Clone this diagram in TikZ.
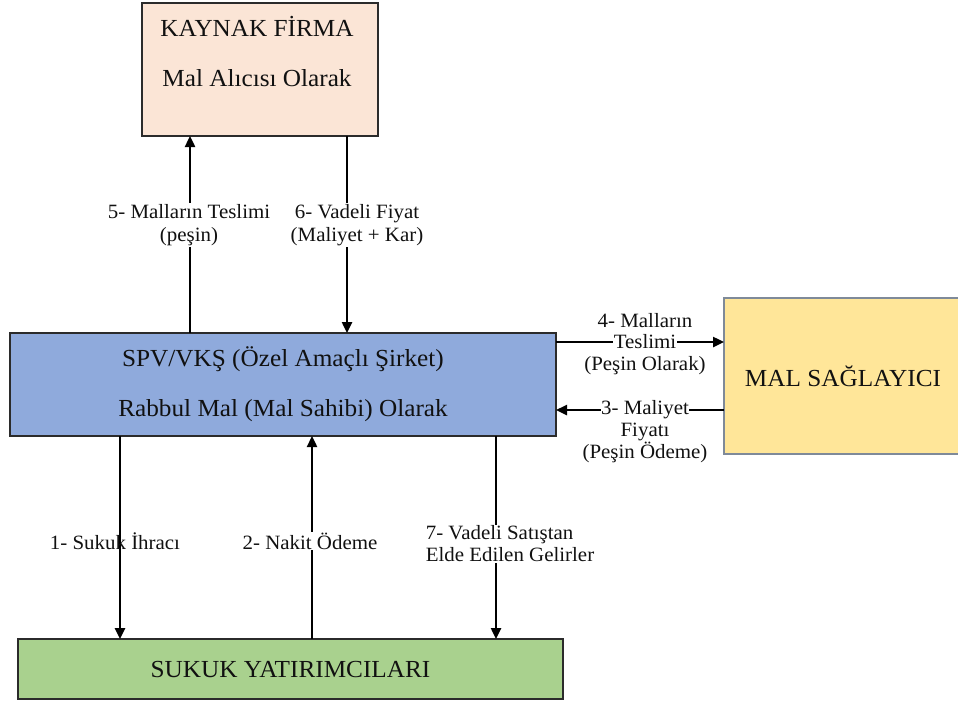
\documentclass[tikz,border=0pt]{standalone}
\usepackage{fontspec}
\setmainfont{Liberation Serif}[FakeStretch=1.03]
\usetikzlibrary{arrows.meta}
\definecolor{peach}{HTML}{FBE5D6}
\definecolor{spvblue}{HTML}{8FAADC}
\definecolor{sgreen}{HTML}{A9D18E}
\definecolor{syellow}{HTML}{FFE699}
\definecolor{darkline}{HTML}{2B2B2B}
\definecolor{grayline}{HTML}{7F8A99}
\definecolor{txt}{HTML}{111111}
\begin{document}
\begin{tikzpicture}[x=1pt,y=-1pt,
  box/.style={draw=darkline, line width=1.8pt, inner sep=0pt, outer sep=0pt,
    text=txt, align=center, font=\fontsize{24.5}{29}\selectfont},
  boxtext/.style={inner sep=0pt, text=txt, align=center, font=\fontsize{24.5}{29}\selectfont},
  arr/.style={draw=black, line width=2.4pt, -{Triangle[length=11pt,width=10pt]}},
  lbl/.style={inner sep=1pt, text=txt, align=center, font=\fontsize{20.3}{22}\selectfont},
  lblw/.style={lbl, fill=white}
]
\useasboundingbox (0,0) rectangle (958,702);

% boxes
\node[box, fill=peach, minimum width=236pt, minimum height=133pt] (kf) at (260,69.5) {};
\node[boxtext] (kft) at (257,52) {KAYNAK FİRMA\\[21pt]Mal Alıcısı Olarak};

\node[box, fill=spvblue, minimum width=546pt, minimum height=103pt] (spv) at (283,384.5)
  {SPV/VKŞ (Özel Amaçlı Şirket)\\[21pt]Rabbul Mal (Mal Sahibi) Olarak};

\node[box, fill=sgreen, minimum width=545pt, minimum height=60pt] (gy) at (290.5,669)
  {SUKUK YATIRIMCILARI};

\node[box, draw=grayline, fill=syellow, minimum width=240pt, minimum height=156pt] (ms) at (844,376)
  {\hspace*{-2pt}MAL SAĞLAYICI};

% helper coordinates
\coordinate (x5) at (190,0);
\coordinate (x6) at (347,0);
\coordinate (x1) at (120,0);
\coordinate (x2) at (312,0);
\coordinate (x7) at (496,0);
\coordinate (y4) at (0,342);
\coordinate (y3) at (0,410);

% arrows
\draw[arr] (spv.north -| x5) -- (kf.south -| x5);
\draw[arr] (kf.south -| x6) -- (spv.north -| x6);
\draw[arr] (spv.south -| x1) -- (gy.north -| x1);
\draw[arr] (gy.north -| x2) -- (spv.south -| x2);
\draw[arr] (spv.south -| x7) -- (gy.north -| x7);
\draw[arr] (spv.east |- y4) -- (ms.west |- y4);
\draw[arr] (ms.west |- y3) -- (spv.east |- y3);

% labels
\node[lblw, font=\fontsize{20.3}{23}\selectfont] (l5) at (189,225) {5- Malların Teslimi\\(peşin)};
\node[lblw, font=\fontsize{20.3}{23}\selectfont] (l6) at (357,225) {6- Vadeli Fiyat\\(Maliyet + Kar)};
\node[lbl] (l1) at (115,541) {1- Sukuk İhracı};
\node[lblw] (l2) at (310,541) {2- Nakit Ödeme};
\node[lblw, align=left] (l7) at (510,544) {7- Vadeli Satıştan\\Elde Edilen Gelirler};
\node[lbl, font=\fontsize{20.3}{21.5}\selectfont] (l4) at (645,344) {4- Malların\\{\setlength\fboxsep{1pt}\colorbox{white}{Teslimi}}\\(Peşin Olarak)};
\node[lbl] (l3) at (645,431) {{\setlength\fboxsep{0.5pt}\colorbox{white}{3- Maliyet}}\\Fiyatı\\(Peşin Ödeme)};
\end{tikzpicture}
\end{document}
